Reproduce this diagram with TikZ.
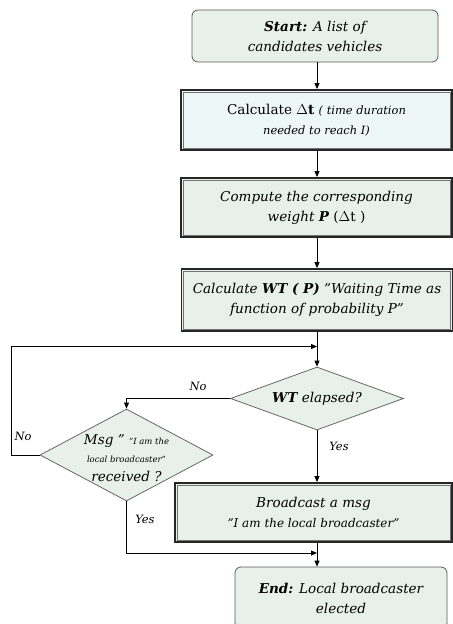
\documentclass[tikz,border=0pt]{standalone}
\usepackage{fontspec}
\setmainfont{DejaVu Serif}
\usetikzlibrary{shapes.geometric,arrows.meta}
\definecolor{gfill}{HTML}{E7F0EB}
\definecolor{bfill}{HTML}{EEF7F8}
\begin{document}
\begin{tikzpicture}[x=1bp,y=-1bp,
  every node/.style={font=\fontsize{13.6}{20}\selectfont\itshape, align=center, inner sep=0pt},
  rbox/.style={draw=black!65, fill=gfill, rounded corners=6bp, line width=0.8bp},
  dbox/.style={draw=black!85, line width=1.8bp, fill=gfill},
  inner/.style={draw=black!55, line width=0.6bp},
  dia/.style={diamond, draw=black!60, fill=gfill, line width=0.8bp},
  arr/.style={-{Triangle[length=6bp,width=5bp]}, line width=0.8bp},
  lab/.style={font=\fontsize{11.5}{13}\selectfont\itshape}
]
\useasboundingbox (0,0) rectangle (453,624);

% boxes
\node[rbox, minimum width=246bp, minimum height=52bp] (start) at (315,36)
  {\textbf{Start:} A list of\\candidates vehicles};
\node[dbox, fill=bfill, minimum width=271bp, minimum height=60bp] (b2) at (316.5,120)
  {\upshape Calculate \textbf{$\Delta$t} {\fontsize{11.5}{20}\selectfont\itshape ( time duration}\\{\fontsize{11.5}{16}\selectfont\itshape needed to reach I)}};
\node[dbox, minimum width=271bp, minimum height=59bp] (b3) at (316.5,207.5)
  {Compute the corresponding\\weight \textbf{P} {\upshape(}$\Delta${\upshape t )}};
\node[dbox, minimum width=271bp, minimum height=62bp] (b4) at (317,300)
  {Calculate \textbf{WT ( P)} "Waiting Time as\\function of probability P"};
\node[dbox, minimum width=277bp, minimum height=59bp] (b5) at (313.5,512.5)
  {Broadcast a msg\\{\fontsize{12}{16}\selectfont "I am the local broadcaster"}};
\node[rbox, minimum width=212bp, minimum height=62bp] (end) at (341,598)
  {\textbf{End:} Local broadcaster\\elected};

% inner lines of double boxes
\foreach \b in {b2,b3,b4,b5}
  \draw[inner] ([shift={(3,3)}]\b.north west) rectangle ([shift={(-3,-3)}]\b.south east);

% diamonds
\node[dia, minimum width=173bp, minimum height=63bp] (d1) at (317,398.5) {};
\node (t1) at (d1.center) {\textbf{WT} elapsed?};
\node[dia, minimum width=173bp, minimum height=92bp] (d2) at (126.5,455) {};
\node (t2) at (126.5,458) {Msg " {\fontsize{8.5}{11}\selectfont "I am the}\\[-2bp]{\fontsize{8.5}{11}\selectfont local broadcaster"}\\[-1bp]received ?};

% coordinates
\coordinate (m1) at (317,346.5);
\coordinate (lft) at (11,346.5);
\coordinate (m2) at (317,553);

% connectors
\draw[arr] (start.south -| d1.north) -- (b2.north -| d1.north);
\draw[arr] (b2.south -| d1.north) -- (b3.north -| d1.north);
\draw[arr] (b3.south -| d1.north) -- (b4.north -| d1.north);
\draw[arr] (b4.south -| d1.north) -- (d1.north);
\draw[arr] (d2.west) -- (d2.west -| lft) -- (lft) -- (m1);
\draw[arr] (d1.west) -| (d2.north);
\draw[arr] (d1.south) -- (b5.north -| d1.south);
\draw[arr] (b5.south -| d1.south) -- (end.north -| d1.south);
\draw[arr] (d2.south) |- (m2);

% labels
\node[lab] (no1) at (198,386) {No};
\node[lab] (no2) at (23,436) {No};
\node[lab] (yes1) at (339,446) {Yes};
\node[lab] (yes2) at (145,519) {Yes};
\end{tikzpicture}
\end{document}
